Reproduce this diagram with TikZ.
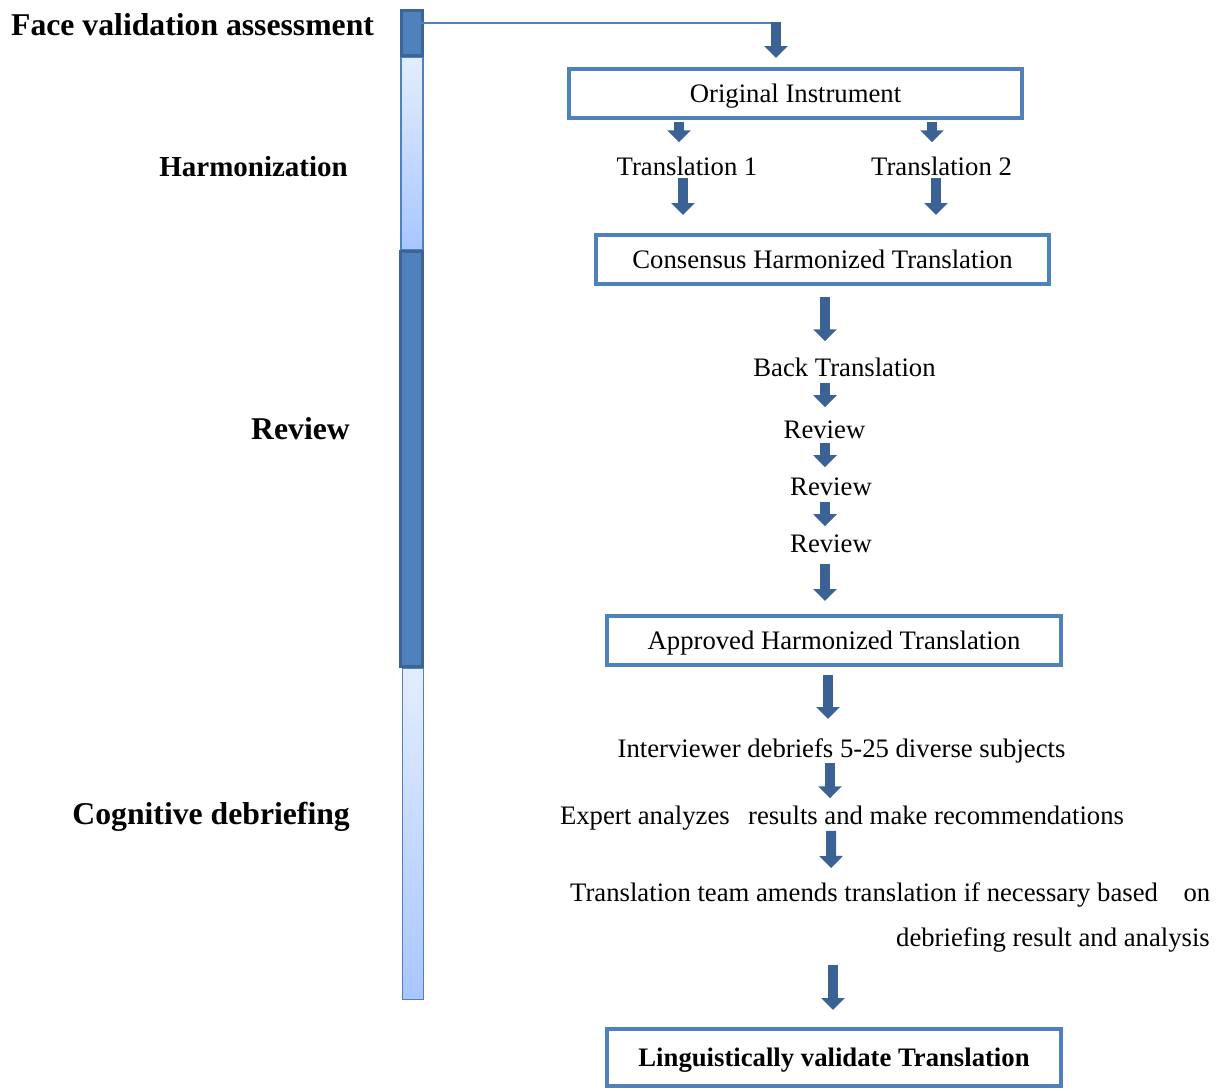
\documentclass[tikz,border=0pt]{standalone}
\usepackage{fontspec}
\setmainfont{Liberation Serif}
\usetikzlibrary{arrows.meta,calc}
\definecolor{boxblue}{HTML}{4F81BD}
\definecolor{arrblue}{HTML}{3B6294}
\definecolor{bardark}{HTML}{3C6494}
\definecolor{lighttop}{HTML}{E3EDFF}
\definecolor{lightbot}{HTML}{A8C6FF}
\tikzset{
  stepbox/.style={draw=boxblue, line width=4pt, fill=white, inner sep=0pt,
    text height=18pt, text depth=0pt, font=\fontsize{26.7}{30}\selectfont},
  plain/.style={inner sep=0pt, font=\fontsize{26.7}{30}\selectfont},
  sidelabel/.style={inner sep=0pt, font=\fontsize{31.7}{36}\selectfont\bfseries},
  darkbar/.style={draw=bardark, fill=boxblue, line width=3pt, inner sep=0pt},
  lightbar/.style={draw=boxblue, top color=lighttop, bottom color=lightbot, line width=1.5pt, inner sep=0pt},
  blk/.style={draw=arrblue, line width=10pt, line cap=butt, -{Triangle[width=23pt,length=12pt]}},
  link/.style={draw=boxblue, line width=1.5pt}
}
\begin{document}
\begin{tikzpicture}[x=1pt,y=-1pt]
\useasboundingbox (0,0) rectangle (1228,1090);
% left bar
\node[lightbar, minimum width=22pt, minimum height=192pt] (bar2) at (412,153.5) {};
\node[lightbar, minimum width=21pt, minimum height=331pt] (bar4) at (413,834) {};
\node[darkbar, minimum width=21pt, minimum height=45pt] (bar1) at (412,33) {};
\node[darkbar, minimum width=22pt, minimum height=415pt] (bar3) at (411.5,459) {};
% side labels
\node[sidelabel, anchor=base west] (lfv) at (11,35) {Face validation assessment};
\node[sidelabel, anchor=base east, font=\fontsize{29}{34}\selectfont\bfseries] (lha) at (348,176) {Harmonization};
\node[sidelabel, anchor=base east] (lre) at (350,439) {Review};
\node[sidelabel, anchor=base east] (lcd) at (350,824) {Cognitive debriefing};
% flow nodes
\node[stepbox, minimum width=453pt, minimum height=49pt] (o) at (795.5,93.5) {Original Instrument};
\node[plain, anchor=base] (t1) at (687,175) {Translation 1};
\node[plain, anchor=base] (t2) at (941.5,175) {Translation 2};
\node[stepbox, minimum width=453pt, minimum height=49pt] (ch) at (822.5,259.5) {Consensus Harmonized Translation};
\node[plain, anchor=base] (bt) at (844.5,376) {Back Translation};
\node[plain, anchor=base] (r1) at (824.5,438) {Review};
\node[plain, anchor=base] (r2) at (831,495) {Review};
\node[plain, anchor=base] (r3) at (831,552) {Review};
\node[stepbox, minimum width=454pt, minimum height=49pt] (ah) at (834,640.5) {Approved Harmonized Translation};
\node[plain, anchor=base] (iv) at (841.5,757) {Interviewer debriefs 5-25 diverse subjects};
\node[plain, anchor=base] (ex) at (842,824) {\hbox to 564pt{Expert analyzes\hfill results and make recommendations}};
\node[plain, anchor=base west] (tt1) at (570,901) {\hbox to 640pt{Translation team amends translation if necessary based\hfill on}};
\node[plain, anchor=base east] (tt2) at (1210,946) {debriefing result and analysis};
\node[stepbox, minimum width=454pt, minimum height=57pt, font=\fontsize{26.7}{30}\selectfont\bfseries] (lv) at (834,1057.5) {Linguistically validate Translation};
% connectors
\coordinate (a0top) at (776,23);
\draw[link] ($(bar1.center)+(-3,-10)$) -- (a0top);
\draw[blk] ($(a0top)+(0,-1)$) -- ($(o.north)+(-19.5,-9)$);
\draw[blk] ($(o.south)+(-116.5,2)$) -- ($(t1.north)+(-8,-14)$);
\draw[blk] ($(o.south)+(136.5,2)$) -- ($(t2.north)+(-9.5,-14)$);
\draw[blk] ($(t1.south)+(-4,3)$) -- ($(ch.north)+(-139.5,-18)$);
\draw[blk] ($(t2.south)+(-5.5,3)$) -- ($(ch.north)+(113.5,-18)$);
\draw[blk] ($(ch.south)+(2.5,11)$) -- ($(bt.north)+(-19.5,-16)$);
\draw[blk] ($(bt.south)+(-19.5,7)$) -- ($(r1.north)+(0.5,-13)$);
\draw[blk] ($(r1.south)+(0.5,5)$) -- ($(r2.north)+(-6,-10)$);
\draw[blk] ($(r2.south)+(-6,7)$) -- ($(r3.north)+(-6,-8)$);
\draw[blk] ($(r3.south)+(-6,12)$) -- ($(ah.north)+(-9,-13)$);
\draw[blk] ($(ah.south)+(-6,8)$) -- ($(iv.north)+(-13.5,-19)$);
\draw[blk] ($(iv.south)+(-11.5,0)$) -- ($(ex.north)+(-12,-7)$);
\draw[blk] ($(ex.south)+(-11,1)$) -- ($(tt1.north)+(-59,-14)$);
\draw[blk] ($(tt2.south -| lv.north)+(-1,13)$) -- ($(lv.north)+(-1,-17)$);
\end{tikzpicture}
\end{document}
